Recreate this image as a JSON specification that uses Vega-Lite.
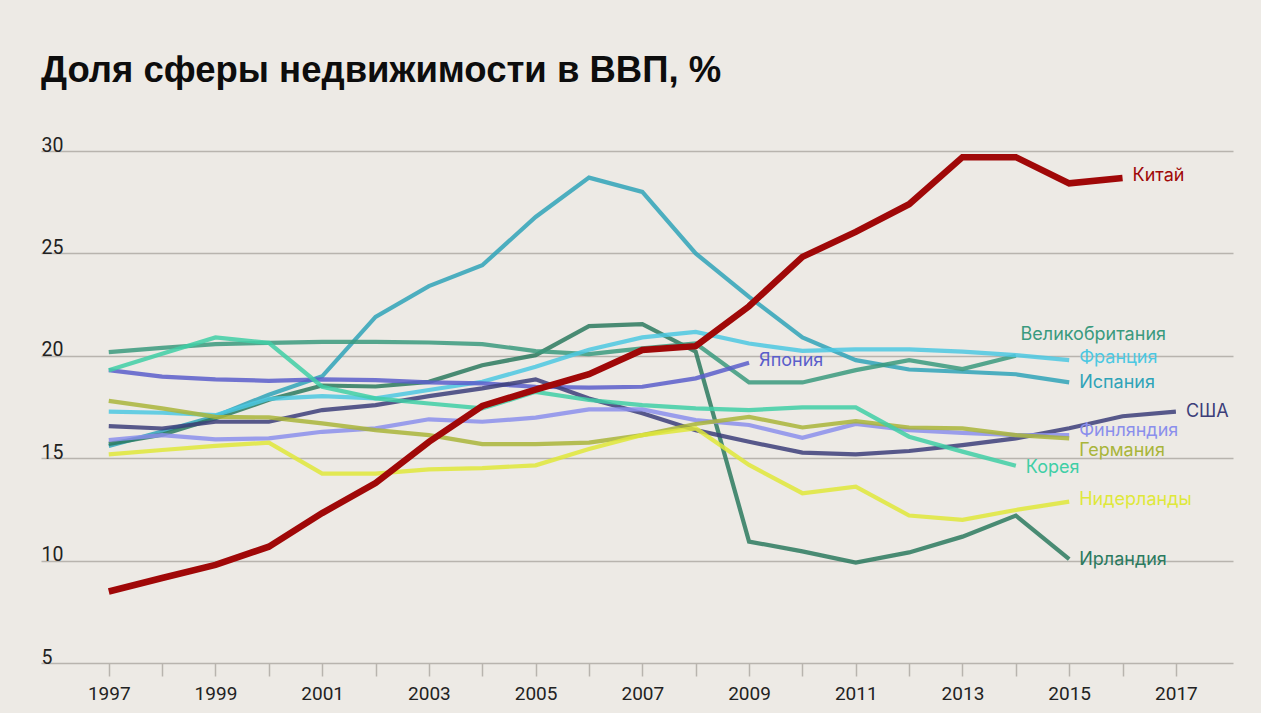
{
  "$schema": "https://vega.github.io/schema/vega-lite/v6.json",
  "autosize": {"type": "none"},
  "width": 1192,
  "height": 512,
  "padding": {"left": 41, "top": 151, "right": 28, "bottom": 50},
  "background": "#edeae5",
  "title": {
    "text": "Доля сферы недвижимости в ВВП, %",
    "anchor": "start",
    "frame": "group",
    "font": "Liberation Sans",
    "fontSize": 36.5,
    "fontWeight": "bold",
    "color": "#0d0d0d",
    "baseline": "alphabetic",
    "offset": 17
  },
  "config": {
    "view": {"stroke": null},
    "font": "Roboto"
  },
  "datasets": {
    "series": [
      {"country": "Китай", "year": 1997, "value": 8.49},
      {"country": "Китай", "year": 1998, "value": 9.15},
      {"country": "Китай", "year": 1999, "value": 9.79},
      {"country": "Китай", "year": 2000, "value": 10.68},
      {"country": "Китай", "year": 2001, "value": 12.32},
      {"country": "Китай", "year": 2002, "value": 13.79},
      {"country": "Китай", "year": 2003, "value": 15.8},
      {"country": "Китай", "year": 2004, "value": 17.55},
      {"country": "Китай", "year": 2005, "value": 18.35},
      {"country": "Китай", "year": 2006, "value": 19.1},
      {"country": "Китай", "year": 2007, "value": 20.28},
      {"country": "Китай", "year": 2008, "value": 20.47},
      {"country": "Китай", "year": 2009, "value": 22.42},
      {"country": "Китай", "year": 2010, "value": 24.83},
      {"country": "Китай", "year": 2011, "value": 26.05},
      {"country": "Китай", "year": 2012, "value": 27.4},
      {"country": "Китай", "year": 2013, "value": 29.7},
      {"country": "Китай", "year": 2014, "value": 29.7},
      {"country": "Китай", "year": 2015, "value": 28.42},
      {"country": "Китай", "year": 2016, "value": 28.68},

      {"country": "Испания", "year": 1997, "value": 15.6},
      {"country": "Испания", "year": 1998, "value": 16.3},
      {"country": "Испания", "year": 1999, "value": 17.05},
      {"country": "Испания", "year": 2000, "value": 18.1},
      {"country": "Испания", "year": 2001, "value": 19.0},
      {"country": "Испания", "year": 2002, "value": 21.9},
      {"country": "Испания", "year": 2003, "value": 23.4},
      {"country": "Испания", "year": 2004, "value": 24.42},
      {"country": "Испания", "year": 2005, "value": 26.78},
      {"country": "Испания", "year": 2006, "value": 28.7},
      {"country": "Испания", "year": 2007, "value": 28.0},
      {"country": "Испания", "year": 2008, "value": 25.0},
      {"country": "Испания", "year": 2009, "value": 22.88},
      {"country": "Испания", "year": 2010, "value": 20.9},
      {"country": "Испания", "year": 2011, "value": 19.79},
      {"country": "Испания", "year": 2012, "value": 19.33},
      {"country": "Испания", "year": 2013, "value": 19.22},
      {"country": "Испания", "year": 2014, "value": 19.1},
      {"country": "Испания", "year": 2015, "value": 18.7},

      {"country": "Ирландия", "year": 1997, "value": 15.7},
      {"country": "Ирландия", "year": 1998, "value": 16.15},
      {"country": "Ирландия", "year": 1999, "value": 16.95},
      {"country": "Ирландия", "year": 2000, "value": 17.85},
      {"country": "Ирландия", "year": 2001, "value": 18.55},
      {"country": "Ирландия", "year": 2002, "value": 18.5},
      {"country": "Ирландия", "year": 2003, "value": 18.73},
      {"country": "Ирландия", "year": 2004, "value": 19.54},
      {"country": "Ирландия", "year": 2005, "value": 20.03},
      {"country": "Ирландия", "year": 2006, "value": 21.45},
      {"country": "Ирландия", "year": 2007, "value": 21.55},
      {"country": "Ирландия", "year": 2008, "value": 20.2},
      {"country": "Ирландия", "year": 2009, "value": 10.93},
      {"country": "Ирландия", "year": 2010, "value": 10.45},
      {"country": "Ирландия", "year": 2011, "value": 9.9},
      {"country": "Ирландия", "year": 2012, "value": 10.4},
      {"country": "Ирландия", "year": 2013, "value": 11.17},
      {"country": "Ирландия", "year": 2014, "value": 12.2},
      {"country": "Ирландия", "year": 2015, "value": 10.07},

      {"country": "Великобритания", "year": 1997, "value": 20.18},
      {"country": "Великобритания", "year": 1998, "value": 20.39},
      {"country": "Великобритания", "year": 1999, "value": 20.57},
      {"country": "Великобритания", "year": 2000, "value": 20.63},
      {"country": "Великобритания", "year": 2001, "value": 20.68},
      {"country": "Великобритания", "year": 2002, "value": 20.68},
      {"country": "Великобритания", "year": 2003, "value": 20.65},
      {"country": "Великобритания", "year": 2004, "value": 20.57},
      {"country": "Великобритания", "year": 2005, "value": 20.23},
      {"country": "Великобритания", "year": 2006, "value": 20.08},
      {"country": "Великобритания", "year": 2007, "value": 20.36},
      {"country": "Великобритания", "year": 2008, "value": 20.6},
      {"country": "Великобритания", "year": 2009, "value": 18.7},
      {"country": "Великобритания", "year": 2010, "value": 18.7},
      {"country": "Великобритания", "year": 2011, "value": 19.3},
      {"country": "Великобритания", "year": 2012, "value": 19.79},
      {"country": "Великобритания", "year": 2013, "value": 19.35},
      {"country": "Великобритания", "year": 2014, "value": 20.0},

      {"country": "Франция", "year": 1997, "value": 17.27},
      {"country": "Франция", "year": 1998, "value": 17.22},
      {"country": "Франция", "year": 1999, "value": 17.1},
      {"country": "Франция", "year": 2000, "value": 17.9},
      {"country": "Франция", "year": 2001, "value": 18.03},
      {"country": "Франция", "year": 2002, "value": 17.92},
      {"country": "Франция", "year": 2003, "value": 18.33},
      {"country": "Франция", "year": 2004, "value": 18.73},
      {"country": "Франция", "year": 2005, "value": 19.46},
      {"country": "Франция", "year": 2006, "value": 20.3},
      {"country": "Франция", "year": 2007, "value": 20.9},
      {"country": "Франция", "year": 2008, "value": 21.17},
      {"country": "Франция", "year": 2009, "value": 20.6},
      {"country": "Франция", "year": 2010, "value": 20.24},
      {"country": "Франция", "year": 2011, "value": 20.31},
      {"country": "Франция", "year": 2012, "value": 20.31},
      {"country": "Франция", "year": 2013, "value": 20.2},
      {"country": "Франция", "year": 2014, "value": 20.03},
      {"country": "Франция", "year": 2015, "value": 19.79},

      {"country": "Япония", "year": 1997, "value": 19.3},
      {"country": "Япония", "year": 1998, "value": 18.98},
      {"country": "Япония", "year": 1999, "value": 18.85},
      {"country": "Япония", "year": 2000, "value": 18.78},
      {"country": "Япония", "year": 2001, "value": 18.85},
      {"country": "Япония", "year": 2002, "value": 18.81},
      {"country": "Япония", "year": 2003, "value": 18.7},
      {"country": "Япония", "year": 2004, "value": 18.65},
      {"country": "Япония", "year": 2005, "value": 18.49},
      {"country": "Япония", "year": 2006, "value": 18.45},
      {"country": "Япония", "year": 2007, "value": 18.49},
      {"country": "Япония", "year": 2008, "value": 18.9},
      {"country": "Япония", "year": 2009, "value": 19.66},

      {"country": "США", "year": 1997, "value": 16.57},
      {"country": "США", "year": 1998, "value": 16.45},
      {"country": "США", "year": 1999, "value": 16.78},
      {"country": "США", "year": 2000, "value": 16.78},
      {"country": "США", "year": 2001, "value": 17.35},
      {"country": "США", "year": 2002, "value": 17.59},
      {"country": "США", "year": 2003, "value": 18.03},
      {"country": "США", "year": 2004, "value": 18.41},
      {"country": "США", "year": 2005, "value": 18.85},
      {"country": "США", "year": 2006, "value": 17.92},
      {"country": "США", "year": 2007, "value": 17.19},
      {"country": "США", "year": 2008, "value": 16.37},
      {"country": "США", "year": 2009, "value": 15.8},
      {"country": "США", "year": 2010, "value": 15.27},
      {"country": "США", "year": 2011, "value": 15.19},
      {"country": "США", "year": 2012, "value": 15.35},
      {"country": "США", "year": 2013, "value": 15.64},
      {"country": "США", "year": 2014, "value": 15.97},
      {"country": "США", "year": 2015, "value": 16.46},
      {"country": "США", "year": 2016, "value": 17.05},
      {"country": "США", "year": 2017, "value": 17.27},

      {"country": "Финляндия", "year": 1997, "value": 15.89},
      {"country": "Финляндия", "year": 1998, "value": 16.13},
      {"country": "Финляндия", "year": 1999, "value": 15.92},
      {"country": "Финляндия", "year": 2000, "value": 15.97},
      {"country": "Финляндия", "year": 2001, "value": 16.29},
      {"country": "Финляндия", "year": 2002, "value": 16.46},
      {"country": "Финляндия", "year": 2003, "value": 16.9},
      {"country": "Финляндия", "year": 2004, "value": 16.78},
      {"country": "Финляндия", "year": 2005, "value": 16.98},
      {"country": "Финляндия", "year": 2006, "value": 17.38},
      {"country": "Финляндия", "year": 2007, "value": 17.38},
      {"country": "Финляндия", "year": 2008, "value": 16.86},
      {"country": "Финляндия", "year": 2009, "value": 16.62},
      {"country": "Финляндия", "year": 2010, "value": 16.0},
      {"country": "Финляндия", "year": 2011, "value": 16.67},
      {"country": "Финляндия", "year": 2012, "value": 16.37},
      {"country": "Финляндия", "year": 2013, "value": 16.24},
      {"country": "Финляндия", "year": 2014, "value": 16.13},
      {"country": "Финляндия", "year": 2015, "value": 16.13},

      {"country": "Германия", "year": 1997, "value": 17.8},
      {"country": "Германия", "year": 1998, "value": 17.43},
      {"country": "Германия", "year": 1999, "value": 17.02},
      {"country": "Германия", "year": 2000, "value": 16.99},
      {"country": "Германия", "year": 2001, "value": 16.7},
      {"country": "Германия", "year": 2002, "value": 16.37},
      {"country": "Германия", "year": 2003, "value": 16.13},
      {"country": "Германия", "year": 2004, "value": 15.69},
      {"country": "Германия", "year": 2005, "value": 15.69},
      {"country": "Германия", "year": 2006, "value": 15.76},
      {"country": "Германия", "year": 2007, "value": 16.13},
      {"country": "Германия", "year": 2008, "value": 16.67},
      {"country": "Германия", "year": 2009, "value": 17.02},
      {"country": "Германия", "year": 2010, "value": 16.5},
      {"country": "Германия", "year": 2011, "value": 16.81},
      {"country": "Германия", "year": 2012, "value": 16.5},
      {"country": "Германия", "year": 2013, "value": 16.46},
      {"country": "Германия", "year": 2014, "value": 16.13},
      {"country": "Германия", "year": 2015, "value": 15.97},

      {"country": "Нидерланды", "year": 1997, "value": 15.19},
      {"country": "Нидерланды", "year": 1998, "value": 15.4},
      {"country": "Нидерланды", "year": 1999, "value": 15.6},
      {"country": "Нидерланды", "year": 2000, "value": 15.76},
      {"country": "Нидерланды", "year": 2001, "value": 14.25},
      {"country": "Нидерланды", "year": 2002, "value": 14.25},
      {"country": "Нидерланды", "year": 2003, "value": 14.45},
      {"country": "Нидерланды", "year": 2004, "value": 14.52},
      {"country": "Нидерланды", "year": 2005, "value": 14.65},
      {"country": "Нидерланды", "year": 2006, "value": 15.45},
      {"country": "Нидерланды", "year": 2007, "value": 16.13},
      {"country": "Нидерланды", "year": 2008, "value": 16.46},
      {"country": "Нидерланды", "year": 2009, "value": 14.67},
      {"country": "Нидерланды", "year": 2010, "value": 13.29},
      {"country": "Нидерланды", "year": 2011, "value": 13.61},
      {"country": "Нидерланды", "year": 2012, "value": 12.2},
      {"country": "Нидерланды", "year": 2013, "value": 11.99},
      {"country": "Нидерланды", "year": 2014, "value": 12.47},
      {"country": "Нидерланды", "year": 2015, "value": 12.88},

      {"country": "Корея", "year": 1997, "value": 19.3},
      {"country": "Корея", "year": 1998, "value": 20.1},
      {"country": "Корея", "year": 1999, "value": 20.9},
      {"country": "Корея", "year": 2000, "value": 20.63},
      {"country": "Корея", "year": 2001, "value": 18.49},
      {"country": "Корея", "year": 2002, "value": 17.92},
      {"country": "Корея", "year": 2003, "value": 17.67},
      {"country": "Корея", "year": 2004, "value": 17.43},
      {"country": "Корея", "year": 2005, "value": 18.24},
      {"country": "Корея", "year": 2006, "value": 17.84},
      {"country": "Корея", "year": 2007, "value": 17.59},
      {"country": "Корея", "year": 2008, "value": 17.43},
      {"country": "Корея", "year": 2009, "value": 17.35},
      {"country": "Корея", "year": 2010, "value": 17.48},
      {"country": "Корея", "year": 2011, "value": 17.48},
      {"country": "Корея", "year": 2012, "value": 16.05},
      {"country": "Корея", "year": 2013, "value": 15.32},
      {"country": "Корея", "year": 2014, "value": 14.63}
    ],
    "labels": [
      {"country": "Китай", "year": 2016, "value": 28.77},
      {"country": "Великобритания", "year": 2013.9, "value": 21.0},
      {"country": "Франция", "year": 2015, "value": 19.89},
      {"country": "Испания", "year": 2015, "value": 18.67},
      {"country": "Япония", "year": 2009, "value": 19.74},
      {"country": "США", "year": 2017, "value": 17.27},
      {"country": "Финляндия", "year": 2015, "value": 16.34},
      {"country": "Германия", "year": 2015, "value": 15.37},
      {"country": "Корея", "year": 2014, "value": 14.51},
      {"country": "Нидерланды", "year": 2015, "value": 12.96},
      {"country": "Ирландия", "year": 2015, "value": 10.03}
    ]
  },
  "layer": [
    {
      "data": {"name": "series"},
      "transform": [{"filter": "datum.country !== 'Китай'"}],
      "mark": {"type": "line", "strokeWidth": 4.2, "opacity": 0.85, "clip": false},
      "encoding": {
        "x": {
          "field": "year", "type": "quantitative",
          "scale": {"domain": [1995.73, 2018.07], "nice": false, "zero": false},
          "axis": {
            "title": null,
            "values": [1997, 1998, 1999, 2000, 2001, 2002, 2003, 2004, 2005, 2006, 2007, 2008, 2009, 2010, 2011, 2012, 2013, 2014, 2015, 2016, 2017],
            "labelExpr": "datum.value % 2 == 1 ? format(datum.value, 'd') : ''",
            "domain": false,
            "grid": false,
            "ticks": true,
            "tickSize": 13,
            "tickWidth": 1.5,
            "tickColor": "#b8b4ae",
            "labelFontSize": 19,
            "labelColor": "#222222",
            "labelPadding": 8,
            "labelOverlap": false,
            "labelFlush": false
          }
        },
        "y": {
          "field": "value", "type": "quantitative",
          "scale": {"domain": [5, 30], "nice": false, "zero": false},
          "axis": {
            "title": null,
            "values": [5, 10, 15, 20, 25, 30],
            "grid": true,
            "gridColor": "#b8b4ae",
            "gridWidth": 1.5,
            "domain": false,
            "ticks": false,
            "labelAlign": "left",
            "labelBaseline": "alphabetic",
            "labelPadding": 0,
            "labelDy": -8,
            "labelFontSize": 19.5,
            "labelColor": "#222222",
            "labelOverlap": false,
            "labelFlush": false
          }
        },
        "color": {
          "field": "country", "type": "nominal", "legend": null,
          "scale": {
            "domain": ["Китай", "Испания", "Ирландия", "Великобритания", "Франция", "Япония", "США", "Финляндия", "Германия", "Нидерланды", "Корея"],
            "range": ["#a00808", "#2fa3b8", "#2b7a5f", "#3a9a7e", "#4cc8e2", "#5a5ecb", "#3c3e7a", "#8b8fec", "#a9b53a", "#dfe83a", "#40cfa6"]
          }
        }
      }
    },
    {
      "data": {"name": "series"},
      "transform": [{"filter": "datum.country === 'Китай'"}],
      "mark": {"type": "line", "strokeWidth": 6.5, "opacity": 1},
      "encoding": {
        "x": {"field": "year", "type": "quantitative"},
        "y": {"field": "value", "type": "quantitative"},
        "color": {"field": "country", "type": "nominal", "legend": null}
      }
    },
    {
      "data": {"name": "labels"},
      "mark": {"type": "text", "align": "left", "baseline": "middle", "dx": 10, "fontSize": 18, "font": "Inter"},
      "encoding": {
        "x": {"field": "year", "type": "quantitative"},
        "y": {"field": "value", "type": "quantitative"},
        "text": {"field": "country"},
        "color": {"field": "country", "type": "nominal", "legend": null}
      }
    }
  ]
}
